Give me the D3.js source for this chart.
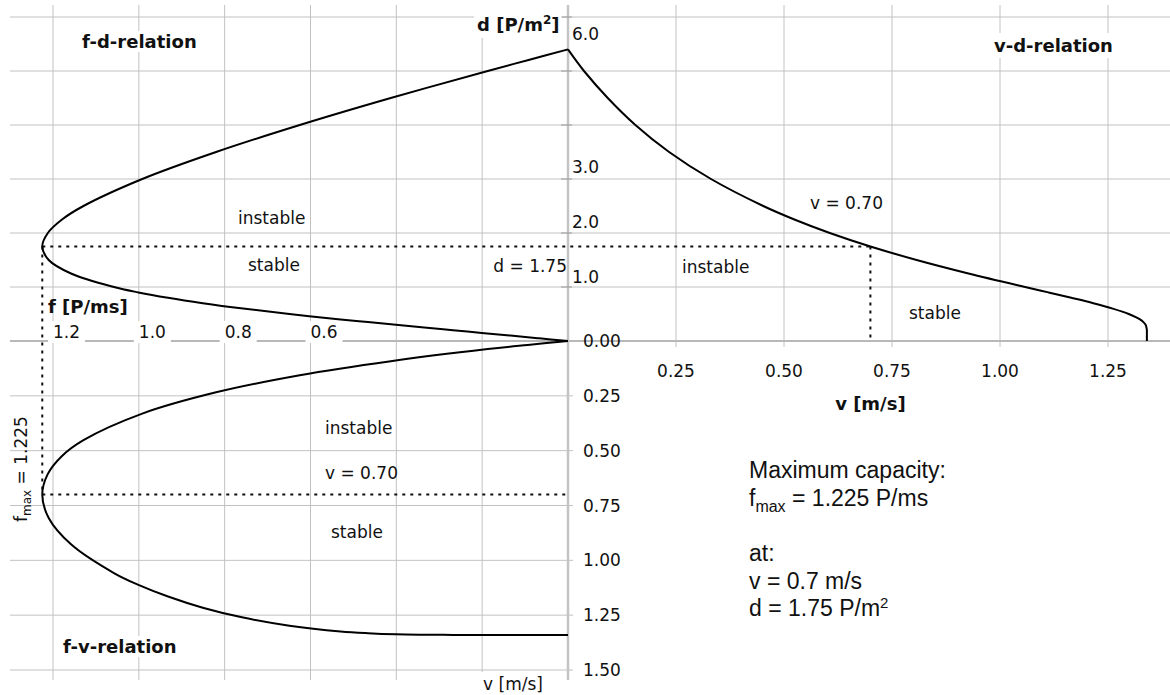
<!DOCTYPE html>
<html>
<head>
<meta charset="utf-8">
<script src="https://cdn.jsdelivr.net/npm/d3@7"></script>
<style>
  html, body { margin: 0; padding: 0; background: #fff; }
  svg { display: block; }
  .lbl { font-family: "DejaVu Sans", Verdana, sans-serif; font-size: 17px; fill: #111; }
  .ttl { font-family: "DejaVu Sans", Verdana, sans-serif; font-size: 18px; font-weight: bold; fill: #111; }
  .note { font-family: "Liberation Sans", Arial, Helvetica, sans-serif; font-size: 23px; fill: #111; }
</style>
</head>
<body>
<svg id="chart" width="1170" height="695"></svg>
<script>
// Fundamental diagram of pedestrian traffic: density d [P/m²], speed v [m/s], flow f [P/ms]
const densities = [5.4, 5.2, 5.0, 4.5, 4.0, 3.5, 3.0, 2.5, 2.25, 2.0, 1.75, 1.5, 1.25, 1.0, 0.9, 0.8, 0.7, 0.6, 0.5, 0.4, 0.35, 0.3, 0.25, 0.2, 0.15, 0.1, 0.05, 0];
const speeds    = [0, 0.018, 0.037, 0.092, 0.156, 0.234, 0.331, 0.452, 0.524, 0.606, 0.700, 0.807, 0.927, 1.058, 1.112, 1.165, 1.216, 1.261, 1.298, 1.324, 1.332, 1.337, 1.339, 1.340, 1.340, 1.340, 1.340, 1.340];
const flows     = [0, 0.094, 0.187, 0.413, 0.625, 0.820, 0.992, 1.129, 1.179, 1.212, 1.225, 1.210, 1.158, 1.058, 1.001, 0.932, 0.851, 0.757, 0.649, 0.530, 0.466, 0.401, 0.335, 0.268, 0.201, 0.134, 0.067, 0];

// capacity point
const fMax = 1.225;
const vAtMax = 0.70;
const dAtMax = 1.75;

// axis ticks
const densityGrid = [1, 2, 3, 4, 5, 6];
const densityLabels = ["1.0", "2.0", "3.0", "6.0"];
const densityLabelValues = [1, 2, 3, 6];
const speedGrid = [0.25, 0.5, 0.75, 1.0, 1.25];
const speedLabels = ["0.25", "0.50", "0.75", "1.00", "1.25"];
const speedDownGrid = [0, 0.25, 0.5, 0.75, 1.0, 1.25, 1.5];
const speedDownLabels = ["0.00", "0.25", "0.50", "0.75", "1.00", "1.25", "1.50"];
const flowGrid = [0.2, 0.4, 0.6, 0.8, 1.0, 1.2];
const flowLabelValues = [1.2, 1.0, 0.8, 0.6];
const flowLabels = ["1.2", "1.0", "0.8", "0.6"];

const svg = d3.select("#chart");
const W = 1170, H = 695;

// Shared origin in the middle: speed to the right / downward, flow to the left, density upward
const x0 = 568, y0 = 341;
const xV = d3.scaleLinear().domain([0, 1.25]).range([x0, 1108]);   // v, right half
const yD = d3.scaleLinear().domain([0, 6]).range([y0, 17]);        // d, upper half
const xF = d3.scaleLinear().domain([0, 1.2]).range([x0, 53]);      // f, left half
const yV = d3.scaleLinear().domain([0, 1.5]).range([y0, 670]);     // v, lower half

const gridColor = "#c2c2c2";
const grid = svg.append("g");

// horizontal density lines across the full width
grid.selectAll(".hd").data(densityGrid).join("line")
  .attr("x1", 10).attr("x2", W).attr("y1", d => yD(d)).attr("y2", d => yD(d))
  .attr("stroke", gridColor).attr("stroke-width", 1);
// horizontal speed lines in the lower-left quadrant
grid.selectAll(".hv").data(speedDownGrid.slice(1)).join("line")
  .attr("x1", 10).attr("x2", x0 + 5).attr("y1", d => yV(d)).attr("y2", d => yV(d))
  .attr("stroke", gridColor).attr("stroke-width", 1);
// vertical flow lines on the left
grid.selectAll(".vf").data(flowGrid).join("line")
  .attr("x1", d => xF(d)).attr("x2", d => xF(d)).attr("y1", 5).attr("y2", 680)
  .attr("stroke", gridColor).attr("stroke-width", 1);
// vertical speed lines on the right
grid.selectAll(".vv").data(speedGrid).join("line")
  .attr("x1", d => xV(d)).attr("x2", d => xV(d)).attr("y1", 5).attr("y2", y0 + 6)
  .attr("stroke", gridColor).attr("stroke-width", 1);
// central axes
grid.append("line").attr("x1", 10).attr("x2", W).attr("y1", y0).attr("y2", y0)
  .attr("stroke", "#b8b8b8").attr("stroke-width", 2);
grid.append("line").attr("x1", x0).attr("x2", x0).attr("y1", 5).attr("y2", 680)
  .attr("stroke", "#c4c4c4").attr("stroke-width", 2.5);
// small ticks on the density axis
grid.selectAll(".td").data(densityGrid).join("line")
  .attr("x1", x0 - 7).attr("x2", x0 + 4).attr("y1", d => yD(d)).attr("y2", d => yD(d))
  .attr("stroke", "#9a9a9a").attr("stroke-width", 1);

// text with an optional white box behind it
function label(g, txt, x, y, cls, opts = {}) {
  const t = g.append("text").attr("class", cls).attr("x", x).attr("y", y)
    .attr("text-anchor", opts.anchor || "start").text(txt);
  if (opts.box) {
    const b = t.node().getBBox();
    const p = opts.pad || [3, 3];
    g.insert("rect", () => t.node())
      .attr("x", b.x - p[0]).attr("y", b.y - p[1])
      .attr("width", b.width + 2 * p[0]).attr("height", b.height + 2 * p[1])
      .attr("fill", "#fff");
  }
  return t;
}

// dotted guides through the capacity point
const guides = svg.append("g").attr("stroke", "#111").attr("stroke-width", 2)
  .attr("stroke-dasharray", "3,5").attr("fill", "none");
guides.append("line").attr("x1", xF(fMax)).attr("x2", xV(vAtMax)).attr("y1", yD(dAtMax)).attr("y2", yD(dAtMax));
guides.append("line").attr("x1", xF(fMax)).attr("x2", xF(fMax)).attr("y1", yD(dAtMax)).attr("y2", yV(vAtMax));
guides.append("line").attr("x1", xF(fMax)).attr("x2", x0).attr("y1", yV(vAtMax)).attr("y2", yV(vAtMax));
guides.append("line").attr("x1", xV(vAtMax)).attr("x2", xV(vAtMax)).attr("y1", yD(dAtMax)).attr("y2", y0);

// curves
const idx = d3.range(densities.length);
const curve = d3.curveCatmullRom.alpha(0.5);
const curves = svg.append("g").attr("fill", "none").attr("stroke", "#000").attr("stroke-width", 2);
curves.append("path").attr("d", d3.line().curve(curve).x(i => xV(speeds[i])).y(i => yD(densities[i]))(idx));
curves.append("path").attr("d", d3.line().curve(curve).x(i => xF(flows[i])).y(i => yD(densities[i]))(idx));
curves.append("path").attr("d", d3.line().curve(curve).x(i => xF(flows[i])).y(i => yV(speeds[i]))(idx));

const txt = svg.append("g");

// tick labels
densityLabels.forEach((s, i) => {
  const v = densityLabelValues[i];
  const y = v === d3.max(densityLabelValues) ? yD(v) + 23 : yD(v) - 4 - i;
  label(txt, s, x0 + 4, y, "lbl");
});
speedLabels.forEach((s, i) => label(txt, s, xV(speedGrid[i]), 377, "lbl", { anchor: "middle" }));
speedDownLabels.forEach((s, i) => label(txt, s, x0 + 15, yV(speedDownGrid[i]) + 6, "lbl"));
flowLabels.forEach((s, i) => label(txt, s, xF(flowLabelValues[i]), 338, "lbl", { box: true, pad: [5, 1] }));

// axis titles
const dt = label(txt, "d [P/m", 477, 31, "ttl", { box: false });
dt.append("tspan").attr("dy", -7).style("font-size", "12px").text("2");
dt.append("tspan").attr("dy", 7).text("]");
{
  const b = dt.node().getBBox();
  txt.insert("rect", () => dt.node()).attr("x", b.x - 3).attr("y", 5).attr("width", b.width + 5)
    .attr("height", b.y + b.height - 2).attr("fill", "#fff");
}
label(txt, "f [P/ms]", 48, 313, "ttl");
label(txt, "v [m/s]", xV(vAtMax), 410, "ttl", { anchor: "middle" });
label(txt, "v [m/s]", 513, 690, "lbl", { anchor: "middle", box: true, pad: [4, 2] });

// panel titles
label(txt, "f-d-relation", 82, 48, "ttl", { box: true, pad: [2, 0] });
label(txt, "v-d-relation", 994, 52, "ttl", { box: true, pad: [2, 2] });
label(txt, "f-v-relation", 63, 653, "ttl", { box: true, pad: [2, 0] });

// regime labels
label(txt, "instable", 238, 224, "lbl");
label(txt, "stable", 248, 271, "lbl");
label(txt, "v = " + vAtMax.toFixed(2), 810, 209, "lbl", { box: true, pad: [3, 3] });
label(txt, "d = " + dAtMax.toFixed(2), 567, 272, "lbl", { anchor: "end" });
label(txt, "instable", 682, 273, "lbl");
label(txt, "stable", 909, 319, "lbl");
label(txt, "instable", 325, 434, "lbl");
label(txt, "v = " + vAtMax.toFixed(2), 325, 479, "lbl");
label(txt, "stable", 331, 538, "lbl");

// rotated capacity label beside the dotted guide
const rot = txt.append("text").attr("class", "lbl")
  .attr("transform", "translate(27,522) rotate(-90)");
rot.append("tspan").text("f");
rot.append("tspan").attr("dy", 4).style("font-size", "12px").text("max");
rot.append("tspan").attr("dy", -4).text(" = " + fMax.toFixed(3));

// summary note
const nx = 749;
label(txt, "Maximum capacity:", nx, 478, "note");
const fl = txt.append("text").attr("class", "note").attr("x", nx).attr("y", 506);
fl.append("tspan").text("f");
fl.append("tspan").attr("dy", 6).style("font-size", "16px").text("max");
fl.append("tspan").attr("dy", -6).text(" = " + fMax.toFixed(3) + " P/ms");
label(txt, "at:", nx, 561, "note");
label(txt, "v = " + vAtMax.toFixed(1) + " m/s", nx, 589, "note");
const dl = txt.append("text").attr("class", "note").attr("x", nx).attr("y", 616);
dl.append("tspan").text("d = " + dAtMax.toFixed(2) + " P/m");
dl.append("tspan").attr("dy", -8).style("font-size", "15px").text("2");
</script>
</body>
</html>
